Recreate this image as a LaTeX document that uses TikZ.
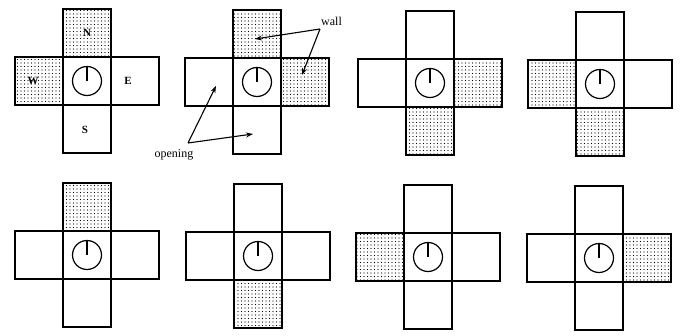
\documentclass[tikz,border=0pt]{standalone}
\usepackage{fontspec}
\setmainfont{Liberation Serif}
\usetikzlibrary{patterns.meta,arrows.meta}
\tikzset{
  sq/.style={draw, line width=1.3pt, minimum width=48pt, minimum height=48pt, inner sep=0pt, outer sep=0pt},
  wall/.style={pattern={Dots[distance=3.5pt, radius=0.6pt]}, pattern color=black},
  open/.style={},
  dial/.style={draw, circle, line width=1.2pt, minimum size=29pt, inner sep=0pt, outer sep=0pt},
  tick/.style={line width=1.2pt},
  lab/.style={font=\fontsize{11}{13}\selectfont\bfseries},
  note/.style={font=\fontsize{12}{14}\selectfont, inner sep=1pt},
  ptr/.style={line width=1.1pt, -{Stealth[length=7pt,width=5pt]}}
}
\newcommand\drawcross[7]{% name, x, y, N, E, S, W styles
  \begin{scope}[shift={(#2,#3)}]
    \node[sq,#4] (#1N) at (0,-48) {};
    \node[sq,#5] (#1E) at (48,0) {};
    \node[sq,#6] (#1S) at (0,48) {};
    \node[sq,#7] (#1W) at (-48,0) {};
    \node[sq] (#1C) at (0,0) {};
    \node[dial] (#1D) at (0,0) {};
    \draw[tick] (#1D.north) -- (#1D.center);
  \end{scope}
}
\begin{document}
\begin{tikzpicture}[x=1pt,y=-1pt]
\useasboundingbox (0,0) rectangle (680,336);
\drawcross{a}{87}{81}{wall}{open}{open}{wall}
\drawcross{b}{257}{82}{wall}{wall}{open}{open}
\drawcross{c}{430}{83}{open}{wall}{wall}{open}
\drawcross{d}{600}{84}{open}{open}{wall}{wall}
\drawcross{e}{87}{255}{wall}{open}{open}{open}
\drawcross{f}{258}{256}{open}{open}{wall}{open}
\drawcross{g}{428}{257}{open}{open}{open}{wall}
\drawcross{h}{599}{258}{open}{wall}{open}{open}
% compass labels
\node[lab] (lN) at (aN) {N};
\node[lab] (lE) at ([xshift=-7pt]aE.center) {E};
\node[lab] (lS) at ([xshift=-2pt,yshift=-1pt]aS.center) {S};
\node[lab] (lW) at ([xshift=-6pt]aW.center) {W};
% annotations
\node[note, anchor=west] (wall) at (320,21) {wall};
\coordinate (wv) at (320,29);
\coordinate (wt1) at (255,39);
\coordinate (wt2) at (302,75);
\draw[ptr] (wv) -- (wt1);
\draw[ptr] (wv) -- (wt2);
\node[note] (open) at (174,155) {opening};
\coordinate (ov) at (188,143);
\coordinate (ot1) at (216,86);
\coordinate (ot2) at (253,134);
\draw[ptr] (ov) -- (ot1);
\draw[ptr] (ov) -- (ot2);
\end{tikzpicture}
\end{document}
